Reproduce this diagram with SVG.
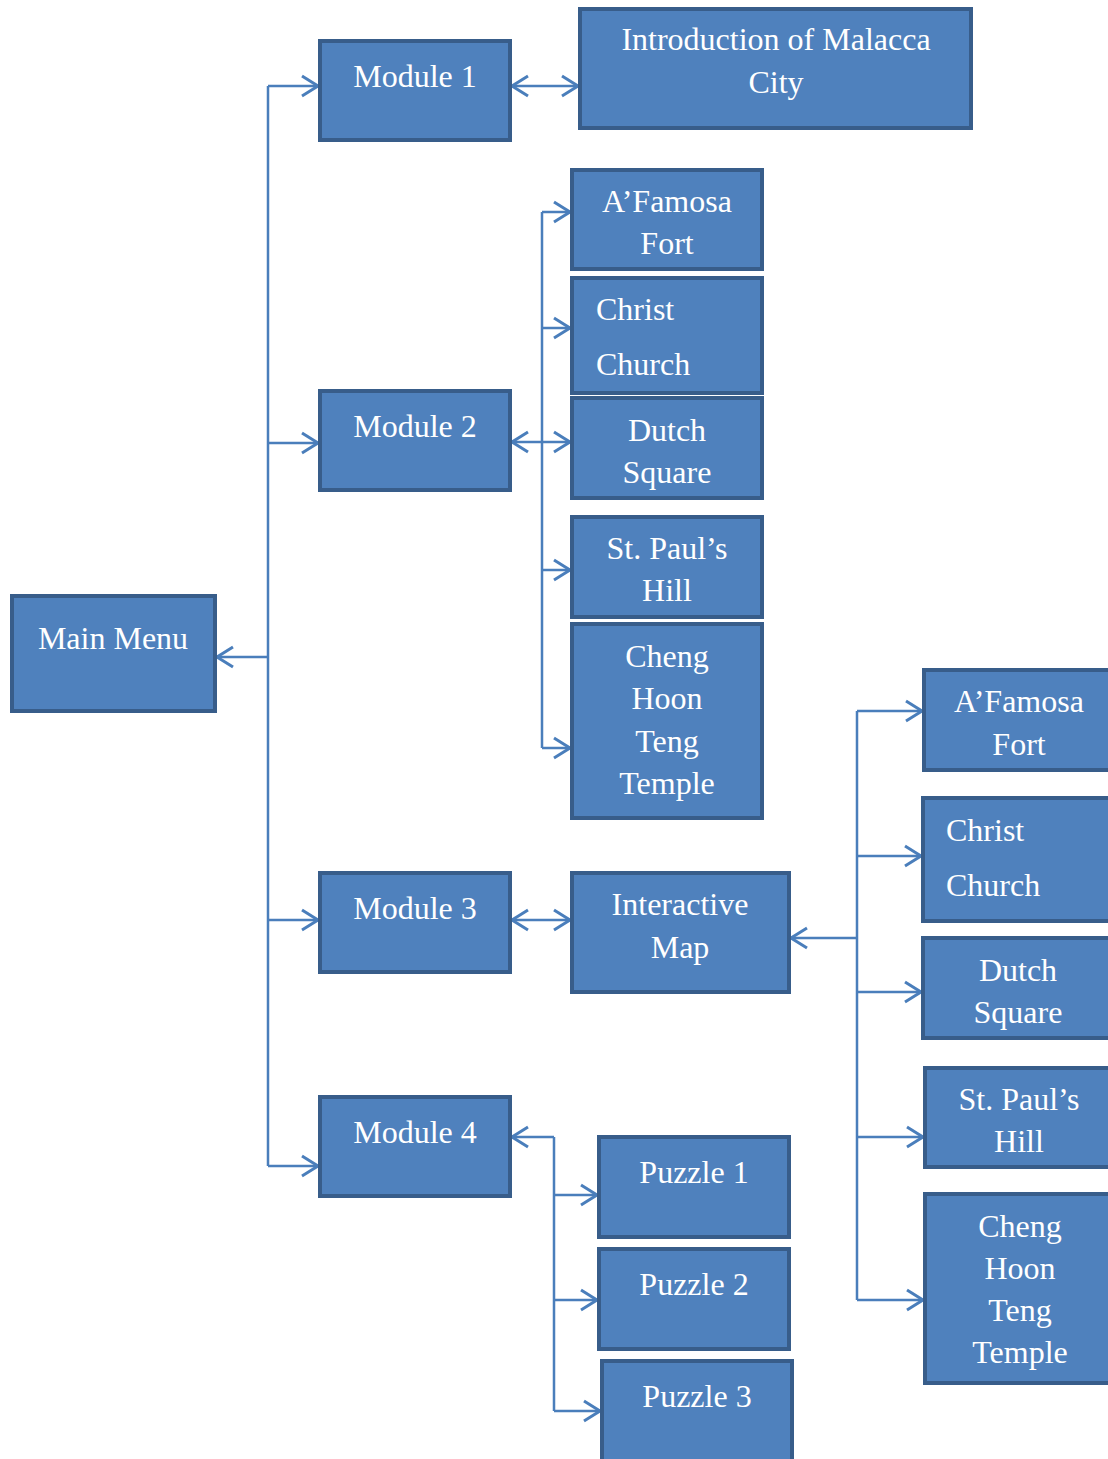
<svg xmlns="http://www.w3.org/2000/svg" width="1108" height="1459" viewBox="0 0 1108 1459">
<defs>
<style>
.box{fill:#4F81BD;stroke:#385D8A;stroke-width:4}
.t{font-family:"Liberation Serif","Times New Roman",serif;font-size:32px;fill:#FFFFFF;text-anchor:middle}
.tl{font-family:"Liberation Serif","Times New Roman",serif;font-size:32px;fill:#FFFFFF;text-anchor:start}
.c{fill:none;stroke:#4A7EBB;stroke-width:2.5}
</style>
<marker id="ah" markerUnits="userSpaceOnUse" markerWidth="24" markerHeight="24" viewBox="-18 -12 20 24" refX="0" refY="0" orient="auto-start-reverse">
<path d="M-16,-10 L0,0 L-16,10" fill="none" stroke="#4A7EBB" stroke-width="3"/>
</marker>
</defs>
<rect width="1108" height="1459" fill="#FFFFFF"/>
<g id="connectors">
<path class="c" d="M268,86 V1166"/>
<path class="c" d="M268,657 H217" marker-end="url(#ah)"/>
<path class="c" d="M268,86 H318" marker-end="url(#ah)"/>
<path class="c" d="M268,443 H318" marker-end="url(#ah)"/>
<path class="c" d="M268,920 H318" marker-end="url(#ah)"/>
<path class="c" d="M268,1166 H318" marker-end="url(#ah)"/>
<path class="c" d="M512,86 H578" marker-start="url(#ah)" marker-end="url(#ah)"/>
<path class="c" d="M542,212 V748"/>
<path class="c" d="M542,442 H512" marker-end="url(#ah)"/>
<path class="c" d="M542,212 H570" marker-end="url(#ah)"/>
<path class="c" d="M542,328 H570" marker-end="url(#ah)"/>
<path class="c" d="M542,442 H570" marker-end="url(#ah)"/>
<path class="c" d="M542,570 H570" marker-end="url(#ah)"/>
<path class="c" d="M542,748 H570" marker-end="url(#ah)"/>
<path class="c" d="M512,920 H570" marker-start="url(#ah)" marker-end="url(#ah)"/>
<path class="c" d="M857,711 V1300"/>
<path class="c" d="M857,938 H791" marker-end="url(#ah)"/>
<path class="c" d="M857,711 H922" marker-end="url(#ah)"/>
<path class="c" d="M857,856 H921" marker-end="url(#ah)"/>
<path class="c" d="M857,992 H921" marker-end="url(#ah)"/>
<path class="c" d="M857,1137 H923" marker-end="url(#ah)"/>
<path class="c" d="M857,1300 H923" marker-end="url(#ah)"/>
<path class="c" d="M554,1137 V1411"/>
<path class="c" d="M554,1137 H512" marker-end="url(#ah)"/>
<path class="c" d="M554,1195 H597" marker-end="url(#ah)"/>
<path class="c" d="M554,1300 H597" marker-end="url(#ah)"/>
<path class="c" d="M554,1411 H600" marker-end="url(#ah)"/>
</g>
<g id="main-menu"><rect class="box" x="12" y="596" width="203" height="115"/><text class="t" x="113" y="649">Main Menu</text></g>
<g id="module-1"><rect class="box" x="320" y="41" width="190" height="99"/><text class="t" x="415" y="87">Module 1</text></g>
<g id="intro"><rect class="box" x="580" y="9" width="391" height="119"/><text class="t" x="776" y="50">Introduction of Malacca</text><text class="t" x="776" y="93">City</text></g>
<g id="module-2"><rect class="box" x="320" y="391" width="190" height="99"/><text class="t" x="415" y="437">Module 2</text></g>
<g id="m2-afamosa"><rect class="box" x="572" y="170" width="190" height="99"/><text class="t" x="667" y="212">A’Famosa</text><text class="t" x="667" y="254">Fort</text></g>
<g id="m2-christ"><rect class="box" x="572" y="278" width="190" height="115"/><text class="tl" x="596" y="320">Christ</text><text class="tl" x="596" y="375">Church</text></g>
<g id="m2-dutch"><rect class="box" x="572" y="398" width="190" height="100"/><text class="t" x="667" y="441">Dutch</text><text class="t" x="667" y="483">Square</text></g>
<g id="m2-stpaul"><rect class="box" x="572" y="517" width="190" height="100"/><text class="t" x="667" y="559">St. Paul’s</text><text class="t" x="667" y="601">Hill</text></g>
<g id="m2-cheng"><rect class="box" x="572" y="624" width="190" height="194"/><text class="t" x="667" y="667">Cheng</text><text class="t" x="667" y="709">Hoon</text><text class="t" x="667" y="752">Teng</text><text class="t" x="667" y="794">Temple</text></g>
<g id="module-3"><rect class="box" x="320" y="873" width="190" height="99"/><text class="t" x="415" y="919">Module 3</text></g>
<g id="interactive-map"><rect class="box" x="572" y="873" width="217" height="119"/><text class="t" x="680" y="915">Interactive</text><text class="t" x="680" y="958">Map</text></g>
<g id="m3-afamosa"><rect class="box" x="924" y="670" width="190" height="100"/><text class="t" x="1019" y="712">A’Famosa</text><text class="t" x="1019" y="755">Fort</text></g>
<g id="m3-christ"><rect class="box" x="923" y="798" width="190" height="123"/><text class="tl" x="946" y="841">Christ</text><text class="tl" x="946" y="896">Church</text></g>
<g id="m3-dutch"><rect class="box" x="923" y="938" width="190" height="100"/><text class="t" x="1018" y="981">Dutch</text><text class="t" x="1018" y="1023">Square</text></g>
<g id="m3-stpaul"><rect class="box" x="925" y="1068" width="190" height="99"/><text class="t" x="1019" y="1110">St. Paul’s</text><text class="t" x="1019" y="1152">Hill</text></g>
<g id="m3-cheng"><rect class="box" x="925" y="1194" width="190" height="189"/><text class="t" x="1020" y="1237">Cheng</text><text class="t" x="1020" y="1279">Hoon</text><text class="t" x="1020" y="1321">Teng</text><text class="t" x="1020" y="1363">Temple</text></g>
<g id="module-4"><rect class="box" x="320" y="1097" width="190" height="99"/><text class="t" x="415" y="1143">Module 4</text></g>
<g id="puzzle-1"><rect class="box" x="599" y="1137" width="190" height="100"/><text class="t" x="694" y="1183">Puzzle 1</text></g>
<g id="puzzle-2"><rect class="box" x="599" y="1249" width="190" height="100"/><text class="t" x="694" y="1295">Puzzle 2</text></g>
<g id="puzzle-3"><rect class="box" x="602" y="1361" width="190" height="110"/><text class="t" x="697" y="1407">Puzzle 3</text></g>
</svg>
